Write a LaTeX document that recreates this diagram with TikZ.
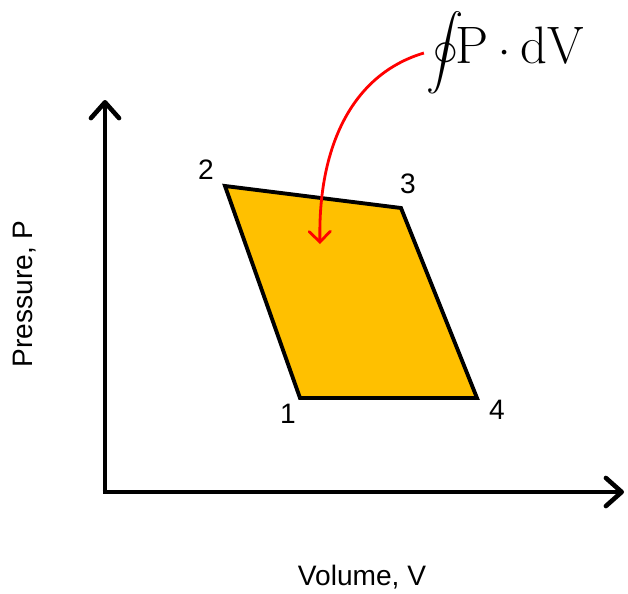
\documentclass[tikz,border=0pt]{standalone}
\usepackage{exscale}
\usepackage{fontspec}
\setsansfont{Liberation Sans}
\usetikzlibrary{arrows.meta}
\definecolor{cyclefill}{RGB}{255,192,0}
\newcommand{\bigoint}{\vcenter{\hbox{\resizebox*{!}{47pt}{$\displaystyle\oint$}}}}
\begin{document}
\begin{tikzpicture}[
    x=0.02cm, y=-0.02cm,
    axis/.style={line width=2.6pt, -{Straight Barb[length=9pt, width=16pt, line cap=round, line join=round]}},
    cycle/.style={draw=black, line width=2.2pt, fill=cyclefill, line join=miter},
    corner/.style={font=\sffamily\fontsize{16}{18}\selectfont},
    axlabel/.style={font=\sffamily\fontsize{16}{18}\selectfont},
    workarrow/.style={red, line width=1.6pt, -{Straight Barb[length=6pt, width=12pt, line cap=round]}}
]
    \useasboundingbox (0,0) rectangle (628,593);

    % Axes
    \coordinate (O) at (105,492);
    \coordinate (Ptop) at (105,100);
    \coordinate (Vend) at (624,492);
    \draw[axis] (O) -- (Ptop);
    \draw[axis] ([xshift=-1.3pt]O) -- (Vend);

    \node[axlabel, rotate=90] (plabel) at (25,294) {Pressure, P};
    \node[axlabel] (vlabel) at (362,577) {Volume, V};

    % Cycle 1-2-3-4
    \coordinate (c1) at (300,398);
    \coordinate (c2) at (225,186);
    \coordinate (c3) at (401,208);
    \coordinate (c4) at (477,398);
    \draw[cycle] (c1) -- (c2) -- (c3) -- (c4) -- cycle;

    \node[corner] (n1) at (288,414) {1};
    \node[corner] (n2) at (206,170) {2};
    \node[corner] (n3) at (408,184) {3};
    \node[corner] (n4) at (497,410) {4};

    % Work integral
    \node[inner sep=1pt] (integral) at (505,53) {\fontsize{30}{34}\selectfont$\bigoint\!\mathrm{P}\cdot\mathrm{dV}$};
    \coordinate (tip) at (320,244);
    \draw[workarrow] (integral.west) .. controls (350,75) and (318,150) .. (tip);
\end{tikzpicture}
\end{document}
